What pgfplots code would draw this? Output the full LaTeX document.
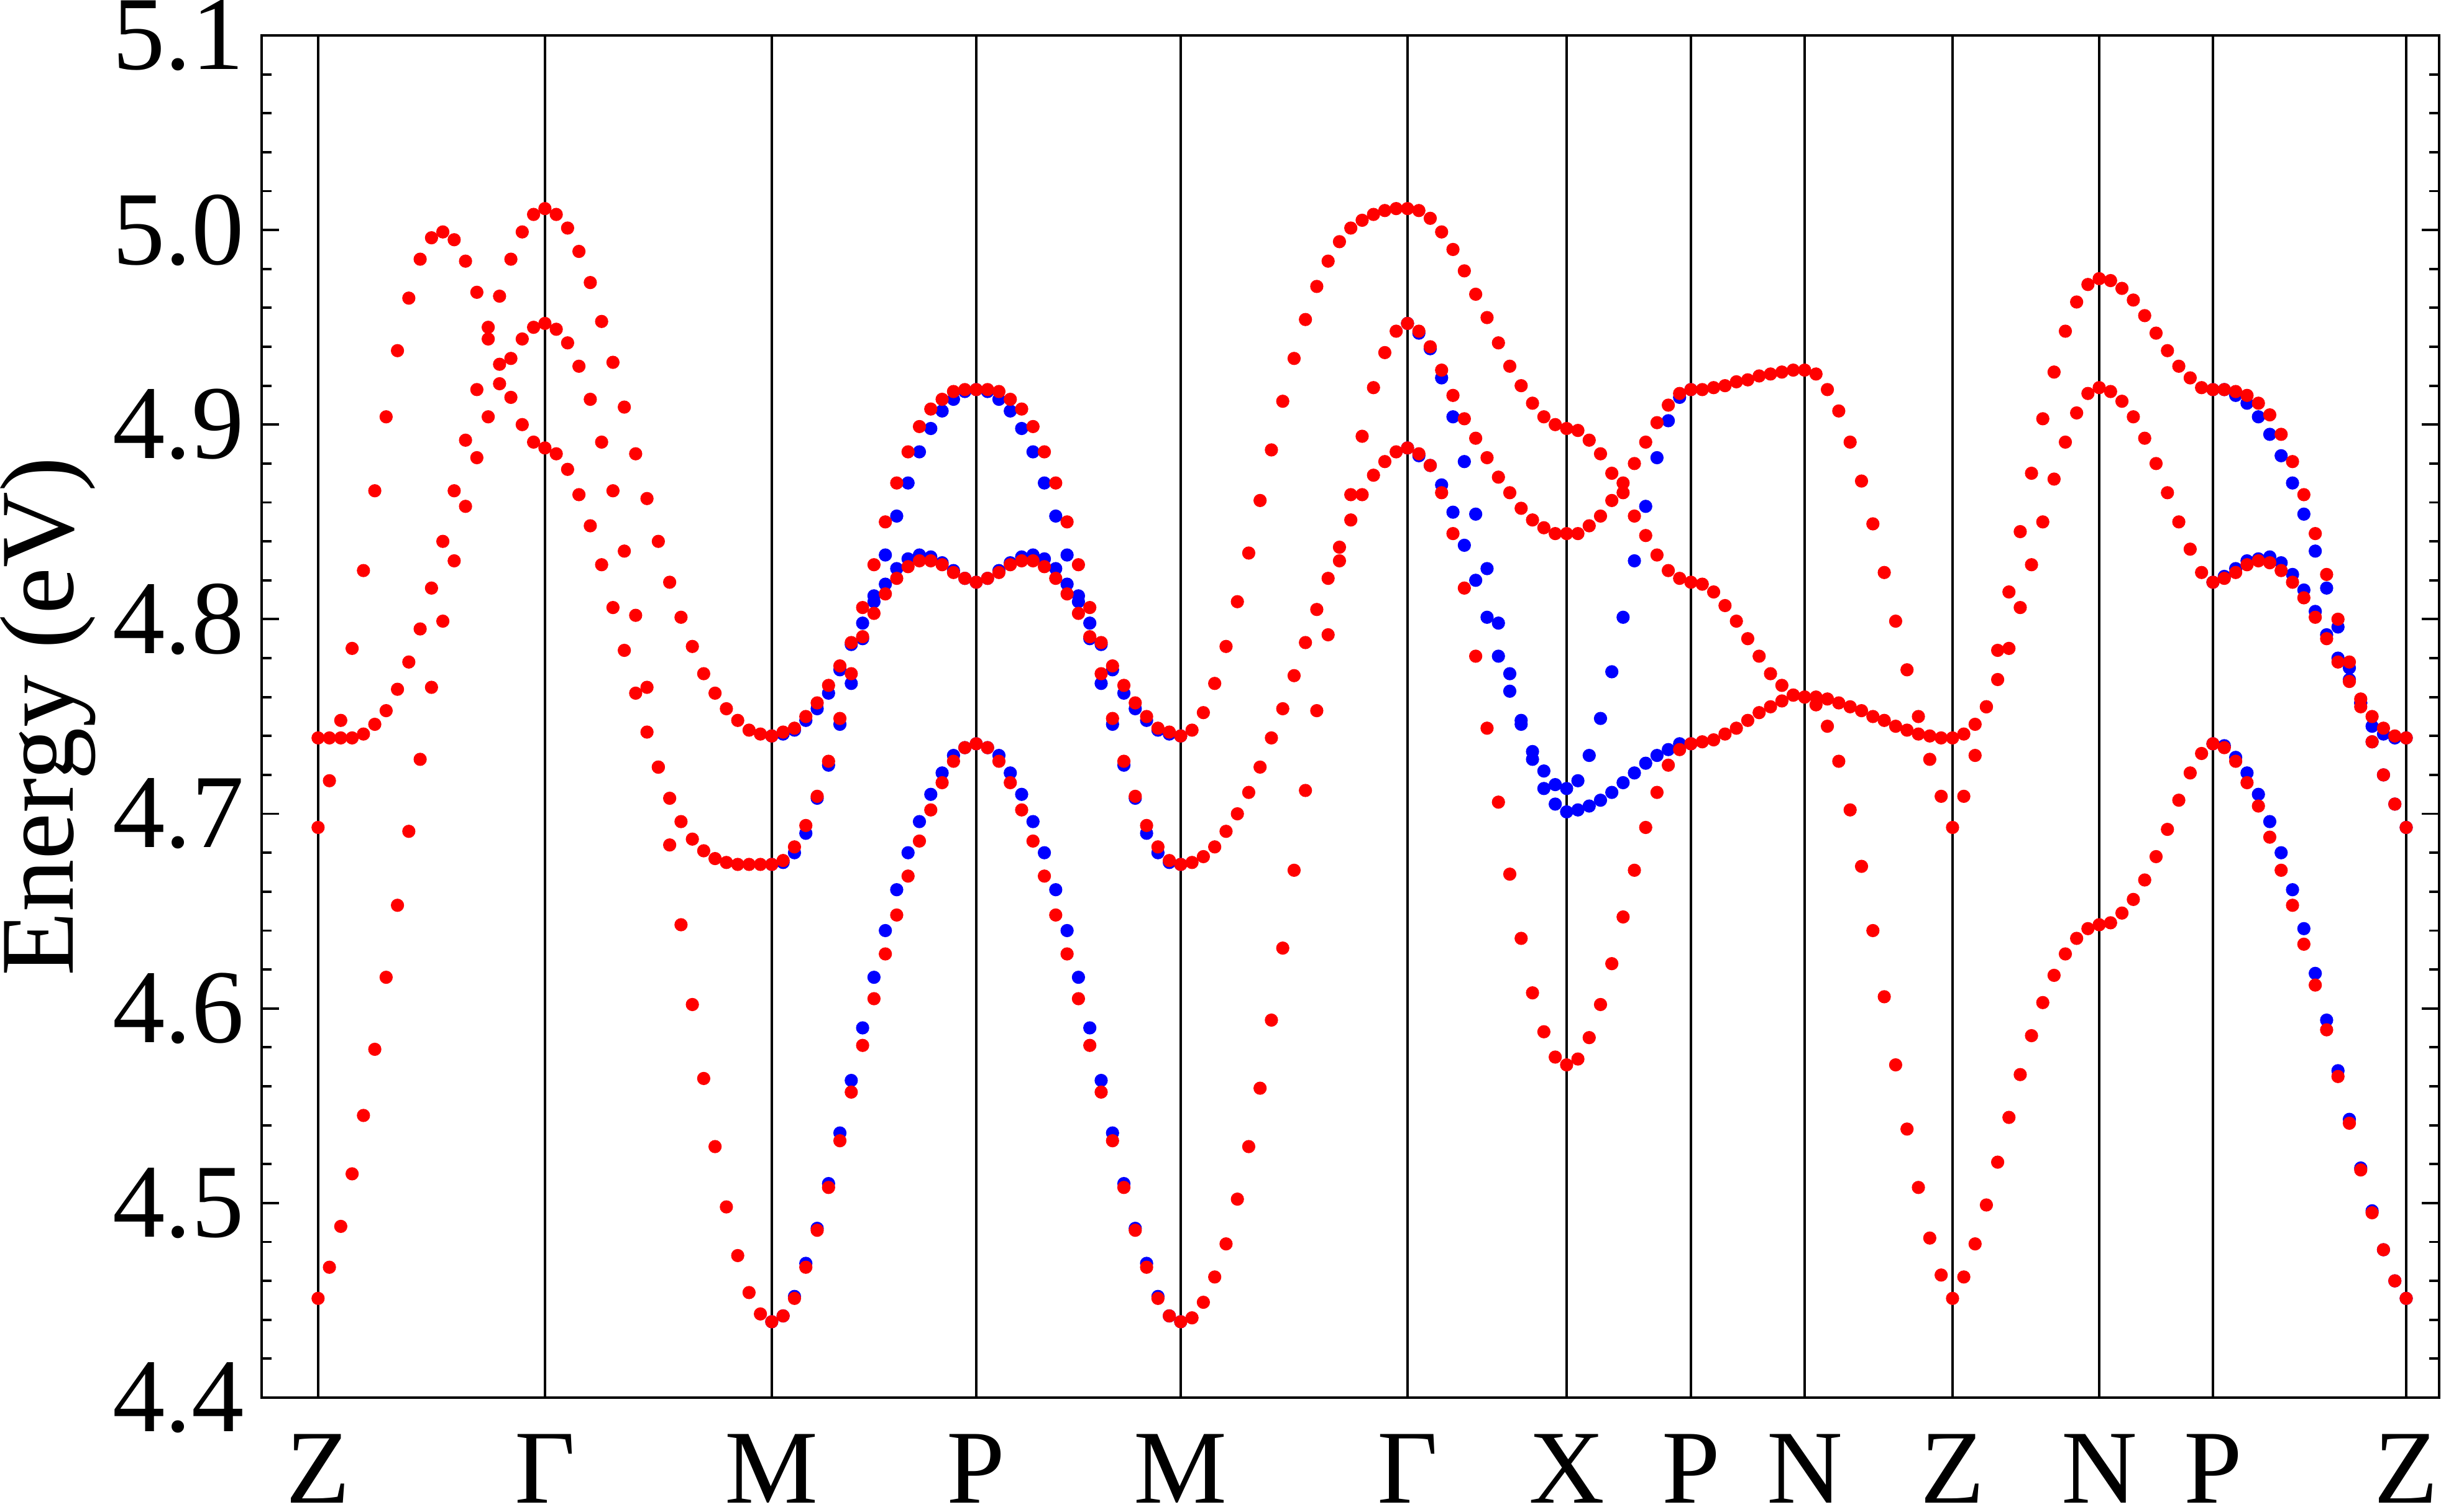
\documentclass[border=0pt]{standalone}
\usepackage{fontspec}
\setmainfont{Liberation Serif}
\usepackage{pgfplots}
\usepackage{pgfplotstable}
\pgfplotsset{compat=1.18}
% red bands: x a b c
\pgfplotstableread{
x a b c
512 4.739 4.693 4.451
530.25 4.739 4.717 4.467
548.5 4.739 4.748 4.488
566.75 4.739 4.785 4.515
585 4.741 4.825 4.545
603.25 4.746 4.866 4.579
621.5 4.753 4.904 4.616
639.75 4.764 4.938 4.653
658 4.778 4.965 4.691
676.25 4.795 4.985 4.728
694.5 4.816 4.996 4.765
712.75 4.840 4.999 4.799
731 4.866 4.995 4.830
749.25 4.892 4.984 4.858
767.5 4.918 4.968 4.883
785.75 4.950 4.944 4.904
804 4.966 4.931 4.921
822.25 4.985 4.934 4.914
840.5 4.999 4.944 4.900
858.75 5.008 4.950 4.891
877 5.011 4.952 4.888
895.25 5.008 4.949 4.885
913.5 5.001 4.942 4.877
931.75 4.989 4.930 4.864
950 4.973 4.913 4.848
968.25 4.953 4.891 4.828
986.5 4.932 4.866 4.806
1004.75 4.909 4.835 4.784
1023 4.885 4.802 4.762
1041.25 4.862 4.765 4.742
1059.5 4.840 4.724 4.724
1077.75 4.819 4.708 4.684
1096 4.801 4.696 4.643
1114.25 4.786 4.687 4.602
1132.5 4.772 4.681 4.564
1150.75 4.762 4.677 4.529
1169 4.754 4.675 4.498
1187.25 4.748 4.674 4.473
1205.5 4.743 4.674 4.454
1223.75 4.741 4.674 4.443
1242 4.740 4.674 4.439
1260.28 4.742 4.676 4.442
1278.56 4.744 4.683 4.451
1296.83 4.750 4.694 4.467
1315.11 4.757 4.709 4.486
1333.39 4.766 4.727 4.508
1351.67 4.776 4.749 4.532
1369.94 4.788 4.772 4.557
1388.22 4.806 4.791 4.581
1406.5 4.828 4.803 4.605
1424.78 4.850 4.813 4.628
1443.06 4.870 4.821 4.648
1461.33 4.886 4.827 4.668
1479.61 4.899 4.830 4.686
1497.89 4.908 4.830 4.702
1516.17 4.913 4.828 4.716
1534.44 4.917 4.824 4.727
1552.72 4.918 4.821 4.734
1571 4.918 4.819 4.736
1589.28 4.918 4.821 4.734
1607.56 4.917 4.824 4.727
1625.83 4.913 4.828 4.716
1644.11 4.908 4.830 4.702
1662.39 4.899 4.830 4.686
1680.67 4.886 4.827 4.668
1698.94 4.870 4.821 4.648
1717.22 4.850 4.813 4.628
1735.5 4.828 4.803 4.605
1753.78 4.806 4.791 4.581
1772.06 4.788 4.772 4.557
1790.33 4.776 4.749 4.532
1808.61 4.766 4.727 4.508
1826.89 4.757 4.709 4.486
1845.17 4.750 4.694 4.467
1863.44 4.744 4.683 4.451
1881.72 4.742 4.676 4.442
1900 4.740 4.674 4.439
1918.25 4.743 4.675 4.441
1936.5 4.752 4.678 4.449
1954.75 4.767 4.683 4.462
1973 4.786 4.691 4.479
1991.25 4.809 4.700 4.502
2009.5 4.834 4.711 4.529
2027.75 4.861 4.724 4.559
2046 4.887 4.739 4.594
2064.25 4.912 4.754 4.631
2082.5 4.934 4.771 4.671
2100.75 4.954 4.788 4.712
2119 4.971 4.805 4.753
2137.25 4.984 4.821 4.792
2155.5 4.994 4.837 4.830
2173.75 5.001 4.851 4.864
2192 5.005 4.864 4.894
2210.25 5.008 4.874 4.919
2228.5 5.010 4.881 4.937
2246.75 5.011 4.886 4.948
2265 5.011 4.888 4.952
2283.29 5.010 4.948 4.885
2301.57 5.006 4.940 4.879
2319.86 4.999 4.928 4.865
2338.14 4.990 4.915 4.844
2356.43 4.979 4.903 4.816
2374.71 4.967 4.893 4.781
2393 4.955 4.883 4.744
2411.29 4.942 4.873 4.706
2429.57 4.930 4.865 4.669
2447.86 4.920 4.857 4.636
2466.14 4.911 4.851 4.608
2484.43 4.904 4.847 4.588
2502.71 4.900 4.844 4.575
2521 4.898 4.844 4.571
2539.18 4.897 4.844 4.574
2557.36 4.892 4.848 4.585
2575.55 4.885 4.853 4.602
2593.73 4.875 4.861 4.623
2611.91 4.870 4.865 4.647
2630.09 4.853 4.880 4.671
2648.27 4.843 4.891 4.693
2666.45 4.833 4.901 4.711
2684.64 4.825 4.910 4.725
2702.82 4.821 4.916 4.733
2721 4.819 4.918 4.736
2739.3 4.918 4.818 4.737
2757.6 4.919 4.814 4.738
2775.9 4.920 4.807 4.741
2794.2 4.922 4.799 4.744
2812.5 4.923 4.790 4.748
2830.8 4.925 4.781 4.752
2849.1 4.926 4.772 4.755
2867.4 4.927 4.766 4.758
2885.7 4.928 4.761 4.761
2904 4.928 4.760 4.760
2922.31 4.926 4.756 4.760
2940.62 4.918 4.745 4.759
2958.92 4.907 4.727 4.757
2977.23 4.891 4.702 4.755
2995.54 4.871 4.673 4.753
3013.85 4.849 4.640 4.750
3032.15 4.824 4.606 4.748
3050.46 4.799 4.571 4.745
3068.77 4.774 4.538 4.743
3087.08 4.750 4.508 4.741
3105.38 4.728 4.482 4.740
3123.69 4.709 4.463 4.739
3142 4.693 4.451 4.739
3160.15 4.741 4.709 4.462
3178.31 4.746 4.730 4.479
3196.46 4.755 4.755 4.499
3214.62 4.769 4.784 4.521
3232.77 4.785 4.814 4.544
3250.92 4.806 4.845 4.566
3269.08 4.828 4.875 4.586
3287.23 4.850 4.903 4.603
3305.38 4.872 4.927 4.617
3323.54 4.891 4.948 4.628
3341.69 4.906 4.963 4.636
3359.85 4.916 4.972 4.641
3378 4.919 4.975 4.643
3396.3 4.917 4.974 4.644
3414.6 4.912 4.970 4.649
3432.9 4.904 4.964 4.656
3451.2 4.893 4.956 4.666
3469.5 4.880 4.947 4.678
3487.8 4.865 4.938 4.692
3506.1 4.850 4.930 4.707
3524.4 4.836 4.924 4.721
3542.7 4.824 4.919 4.731
3561 4.819 4.918 4.736
3579.29 4.918 4.821 4.734
3597.59 4.917 4.824 4.727
3615.88 4.915 4.828 4.716
3634.18 4.911 4.830 4.704
3652.47 4.905 4.829 4.688
3670.76 4.895 4.825 4.671
3689.06 4.881 4.819 4.653
3707.35 4.864 4.811 4.633
3725.65 4.844 4.801 4.612
3743.94 4.823 4.790 4.589
3762.24 4.800 4.778 4.565
3780.53 4.778 4.768 4.541
3798.82 4.759 4.755 4.517
3817.12 4.750 4.737 4.495
3835.41 4.744 4.720 4.476
3853.71 4.740 4.705 4.460
3872 4.739 4.693 4.451
}\redtab
% blue bands (visible where they split from red)
\pgfplotstableread{
x a b c
1242 4.740 4.674 4.439
1260.28 4.741 4.675 4.442
1278.56 4.743 4.680 4.452
1296.83 4.748 4.690 4.469
1315.11 4.754 4.708 4.487
1333.39 4.762 4.725 4.510
1351.67 4.774 4.746 4.536
1369.94 4.787 4.767 4.563
1388.22 4.798 4.790 4.590
1406.5 4.812 4.809 4.616
1424.78 4.833 4.818 4.640
1443.06 4.853 4.826 4.661
1461.33 4.870 4.831 4.680
1479.61 4.886 4.833 4.696
1497.89 4.898 4.832 4.710
1516.17 4.907 4.829 4.721
1534.44 4.913 4.825 4.730
1552.72 4.917 4.821 4.734
1571 4.918 4.819 4.736
1589.28 4.917 4.821 4.734
1607.56 4.913 4.825 4.730
1625.83 4.907 4.829 4.721
1644.11 4.898 4.832 4.710
1662.39 4.886 4.833 4.696
1680.67 4.870 4.831 4.680
1698.94 4.853 4.826 4.661
1717.22 4.833 4.818 4.640
1735.5 4.812 4.809 4.616
1753.78 4.798 4.790 4.590
1772.06 4.787 4.767 4.563
1790.33 4.774 4.746 4.536
1808.61 4.762 4.725 4.510
1826.89 4.754 4.708 4.487
1845.17 4.748 4.690 4.469
1863.44 4.743 4.680 4.452
1881.72 4.741 4.675 4.442
1900 4.740 4.674 4.439
2265 4.952 4.888 nan
2283.29 4.947 4.884 nan
2301.57 4.939 4.879 nan
2319.86 4.924 4.869 nan
2338.14 4.904 4.855 nan
2356.43 4.881 4.838 nan
2374.71 4.854 4.820 nan
2393 4.826 4.801 nan
2411.29 4.798 4.781 nan
2429.57 4.772 4.763 nan
2447.86 4.748 4.746 nan
2466.14 4.732 4.728 nan
2484.43 4.722 4.713 nan
2502.71 4.715 4.705 nan
2521 4.713 4.701 nan
2539.18 4.717 4.702 nan
2557.36 4.730 4.704 nan
2575.55 4.749 4.707 nan
2593.73 4.773 4.711 nan
2611.91 4.801 4.716 nan
2630.09 4.830 4.721 nan
2648.27 4.858 4.726 nan
2666.45 4.883 4.730 nan
2684.64 4.902 4.733 nan
2702.82 4.914 4.736 nan
2721 4.918 4.736 nan
3561 4.918 4.819 4.736
3579.29 4.918 4.822 4.735
3597.59 4.915 4.826 4.729
3615.88 4.911 4.830 4.721
3634.18 4.904 4.831 4.710
3652.47 4.895 4.832 4.696
3670.76 4.884 4.829 4.680
3689.06 4.870 4.823 4.661
3707.35 4.854 4.815 4.641
3725.65 4.835 4.804 4.618
3743.94 4.816 4.792 4.594
3762.24 4.796 4.780 4.568
3780.53 4.775 4.769 4.543
3798.82 4.757 4.757 4.518
3817.12 4.745 4.737 4.496
3835.41 4.741 4.720 4.476
3853.71 4.739 4.705 4.460
3872 4.739 4.693 4.451
}\bluetab
\begin{document}
\fontsize{24}{29}\selectfont
\begin{tikzpicture}
\begin{axis}[
  scale only axis,
  width=175.2mm, height=109.6mm,
  xmin=421, xmax=3925, ymin=4.4, ymax=5.1,
  axis line style={line width=0.55pt},
  xtick={512,877,1242,1571,1900,2265,2521,2721,2904,3142,3378,3561,3872},
  xticklabels={Z,Γ,M,P,M,Γ,X,P,N,Z,N,P,Z},
  xmajorgrids,
  major x grid style={black, line width=0.5pt},
  x tick style={draw=none},
  ytick={4.4,4.5,4.6,4.7,4.8,4.9,5.0,5.1},
  minor y tick num=4,
  ytick pos=both,
  tick align=inside,
  y tick style={black, line width=0.55pt},
  major tick length=1.4mm, minor tick length=0.8mm,
  /pgf/number format/assume math mode=true,
  yticklabel style={/pgf/number format/fixed, /pgf/number format/fixed zerofill, /pgf/number format/precision=1,
    inner sep=0pt, xshift=-1.35mm, font=\fontsize{24}{29}\selectfont},
  xticklabel style={inner sep=0pt, yshift=-2.9mm, font=\fontsize{24}{29}\selectfont},
  ylabel={Energy (eV)},
  every axis y label/.style={at={(rel axis cs:-0.0982,0.5)}, rotate=90, anchor=center, inner sep=0pt, font=\fontsize{24}{29}\selectfont},
  unbounded coords=discard,
  every axis plot/.append style={only marks, mark=*, mark size=0.46mm, line width=0.4pt},
]
\addplot[color=blue] table[x=x, y=a] {\bluetab};
\addplot[color=blue] table[x=x, y=b] {\bluetab};
\addplot[color=blue] table[x=x, y=c] {\bluetab};
\addplot[color=red] table[x=x, y=a] {\redtab};
\addplot[color=red] table[x=x, y=b] {\redtab};
\addplot[color=red] table[x=x, y=c] {\redtab};
\end{axis}
\path (current axis.north east) ++(2mm,2.85mm);
\path (current axis.south west) ++(0,-8.75mm);
\end{tikzpicture}
\end{document}
